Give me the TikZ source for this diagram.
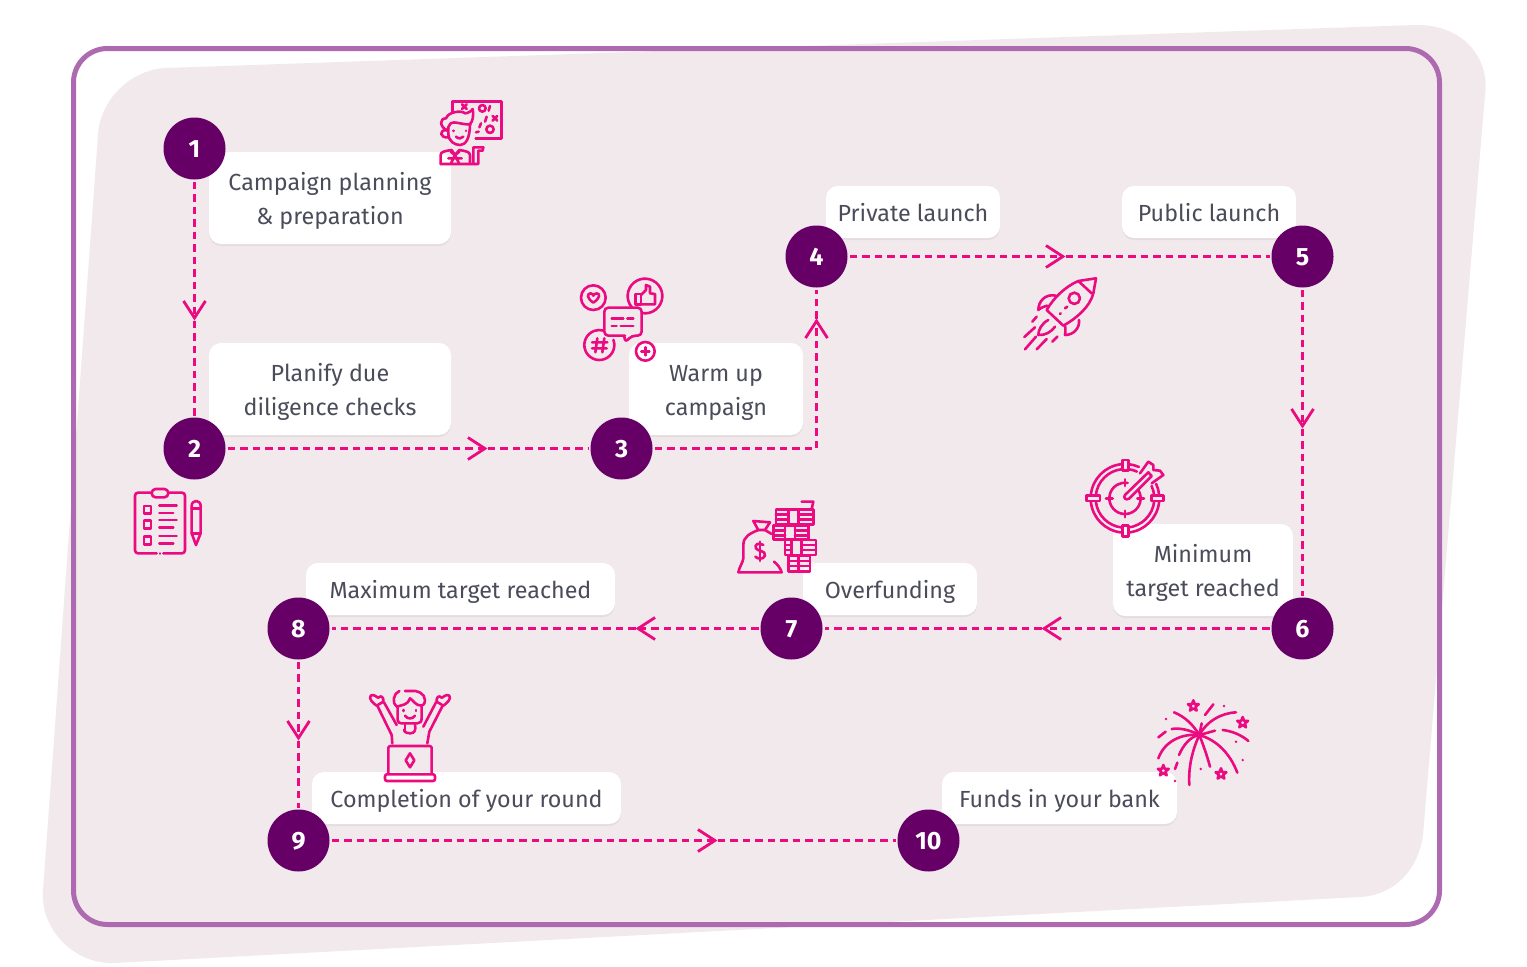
\documentclass[tikz,border=0pt]{standalone}
\usepackage{fontspec}
\setmainfont{Fira Sans}
\usepackage{tikz}
\usetikzlibrary{arrows.meta,shadows}

\definecolor{blobfill}{HTML}{F2E9EC}
\definecolor{framecol}{HTML}{AE6AB0}
\definecolor{pinkline}{HTML}{EC0A80}
\definecolor{stepcol}{HTML}{660066}
\definecolor{labeltext}{HTML}{4B4C5A}

\tikzset{
  labelbox/.style={fill=white,rounded corners=12pt,align=center,inner sep=0pt,
    text=labeltext,font=\fontsize{23.3}{34}\selectfont,text depth=6pt,
    drop shadow={shadow xshift=0pt,shadow yshift=-2pt,opacity=.12}},
  twoline/.style={minimum height=92pt,text height=58pt},
  oneline/.style={minimum height=52pt,text height=24pt},
  stepdot/.style={circle,fill=stepcol,text=white,minimum size=62pt,inner sep=0pt,
    outer sep=2pt,text height=18.5pt,font=\fontsize{25}{25}\selectfont\bfseries},
  link/.style={draw=pinkline,line width=3pt,dash pattern=on 7.5pt off 5pt},
  flowtip/.style={-{Straight Barb[length=17pt,width=22pt,line width=2.8pt]}},
  iconline/.style={draw=pinkline,line width=2.6pt,line cap=round,line join=round},
  iconscope/.style={x=.3333pt,y=-.3333pt,iconline}
}

\begin{document}
\begin{tikzpicture}[x=1pt,y=-1pt]
  \useasboundingbox (0,0) rectangle (1527,967);

  % Background blob
  \fill[blobfill] (165,68) -- (1415,25) .. controls (1465,24) and (1490,60) .. (1485,95)
    -- (1423,835) .. controls (1418,870) and (1395,895) .. (1360,897)
    -- (115,963) .. controls (75,965) and (40,930) .. (43,890)
    -- (98,135) .. controls (100,100) and (130,70) .. (165,68) -- cycle;

  % Frame
  \draw[framecol,line width=5pt,rounded corners=34pt] (73.5,48.5) rectangle (1439.5,924.5);

  % Label boxes
  \node[labelbox,twoline,minimum width=242pt] (lab1) at (330,198) {Campaign planning\\\& preparation};
  \node[labelbox,twoline,minimum width=242pt] (lab2) at (330,389) {Planify due\\diligence checks};
  \node[labelbox,twoline,minimum width=174pt] (lab3) at (716,389) {Warm up\\campaign};
  \node[labelbox,oneline,minimum width=174pt] (lab4) at (913,212) {Private launch};
  \node[labelbox,oneline,minimum width=174pt] (lab5) at (1209,212) {Public launch};
  \node[labelbox,twoline,minimum width=180pt] (lab6) at (1203,570) {Minimum\\target reached};
  \node[labelbox,oneline,minimum width=174pt] (lab7) at (890,589) {Overfunding};
  \node[labelbox,oneline,minimum width=309pt] (lab8) at (460.5,589) {Maximum target reached};
  \node[labelbox,oneline,minimum width=309pt] (lab9) at (466.5,798) {Completion of your round};
  \node[labelbox,oneline,minimum width=235pt] (lab10) at (1059.5,798) {Funds in your bank};

  % Step circles and arrow positions
  \begin{scope}[shift={(-.5,.5)}]
    \node[stepdot] (n1) at (195,148) {1};
    \node[stepdot] (n2) at (195,448) {2};
    \node[stepdot] (n3) at (622,448) {3};
    \node[stepdot] (n4) at (817,256) {4};
    \node[stepdot] (n5) at (1303,256) {5};
    \node[stepdot] (n6) at (1303,628) {6};
    \node[stepdot] (n7) at (792,628) {7};
    \node[stepdot] (n8) at (299,628) {8};
    \node[stepdot] (n9) at (299,840) {9};
    \node[stepdot] (n10) at (929,840) {10};

    \coordinate (a1) at (195,320);
    \coordinate (a2) at (488,448);
    \coordinate (a3) at (817,318);
    \coordinate (a4) at (1066,256);
    \coordinate (a5) at (1303,428);
    \coordinate (a6) at (1042,628);
    \coordinate (a7) at (636,628);
    \coordinate (a8) at (299,740);
    \coordinate (a9) at (718,840);
  \end{scope}

  % Connectors
  \draw[link,flowtip] (n1) -- (a1);
  \draw[link] (a1) -- (n2);
  \draw[link,flowtip] (n2) -- (a2);
  \draw[link] (a2) -- (n3);
  \draw[link,flowtip] (n3) -| (a3);
  \draw[link] (a3) -- (n4);
  \draw[link,flowtip] (n4) -- (a4);
  \draw[link] (a4) -- (n5);
  \draw[link,flowtip] (n5) -- (a5);
  \draw[link] (a5) -- (n6);
  \draw[link,flowtip] (n6) -- (a6);
  \draw[link] (a6) -- (n7);
  \draw[link,flowtip] (n7) -- (a7);
  \draw[link] (a7) -- (n8);
  \draw[link,flowtip] (n8) -- (a8);
  \draw[link] (a8) -- (n9);
  \draw[link,flowtip] (n9) -- (a9);
  \draw[link] (a9) -- (n10);

  % Icon: planner at the board
  \begin{scope}[shift={(420,90)},iconscope]
    \draw (97,65) -- (97,35) -- (245,35) -- (245,145) -- (167,145);
    \foreach \mx/\my in {133/50,225/85} {
      \draw (\mx-7,\my-7) -- (\mx+7,\my+7) (\mx-7,\my+7) -- (\mx+7,\my-7);
    }
    \draw (187,55) circle[radius=10];
    \draw (210,118) circle[radius=11];
    \draw (210,48) -- (206,62) (200,80) -- (195,95) (183,100) -- (178,112) (176,125) -- (168,127);
    \draw (82,122) .. controls (58,110) and (58,85) .. (78,85) .. controls (85,65) and (125,60) .. (135,70)
      .. controls (145,70) and (155,62) .. (158,57) .. controls (162,75) and (158,95) .. (150,103)
      .. controls (130,105) and (100,92) .. (92,100) .. controls (85,105) and (85,115) .. (82,122);
    \draw (85,115) -- (85,130) .. controls (85,155) and (105,165) .. (120,165)
      .. controls (135,165) and (150,150) .. (150,100);
    \draw (80,120) .. controls (55,120) and (60,145) .. (85,142);
    \draw (108,140) .. controls (115,147) and (125,147) .. (130,140);
    \draw (100,122) -- (100,123) (138,122) -- (138,123);
    \draw (62,222) -- (62,195) .. controls (62,185) and (75,183) .. (95,180) -- (105,195) -- (118,180)
      .. controls (135,183) and (150,185) .. (150,195) -- (150,222);
    \draw (62,222) -- (175,222) -- (175,182) -- (188,182) -- (190,172) -- (160,172) -- (160,222);
    \draw (105,195) -- (92,222) (105,195) -- (118,222) (85,205) -- (125,205);
    \draw (105,195) -- (92,185) (105,195) -- (118,185);
  \end{scope}

  % Icon: social media
  \begin{scope}[shift={(570,270)},iconscope]
    \draw (70,83) circle[radius=37];
    \draw (70,98) .. controls (50,85) and (50,70) .. (62,70) .. controls (67,70) and (70,75) .. (70,77)
      .. controls (70,75) and (75,70) .. (80,70) .. controls (92,70) and (90,85) .. (70,98) -- cycle;
    \draw ([shift={(140:52)}]225,78) arc[start angle=140,end angle=461,radius=52];
    \draw (197,72) rectangle (213,103);
    \draw (213,75) -- (228,60) -- (228,45) -- (240,50) -- (240,70) -- (255,72) -- (255,103) -- (213,103);
    \draw[rounded corners=4pt] (165,197) -- (103,197) -- (103,113) -- (215,113) -- (215,197) -- (185,197) -- (165,218) -- (163,197);
    \draw (125,145) -- (160,145) (172,145) -- (190,145) (125,168) -- (140,168) (152,168) -- (190,168);
    \draw ([shift={(-20:45)}]88,225) arc[start angle=-20,end angle=286,radius=45];
    \draw (82,205) -- (76,247) (103,205) -- (97,247) (66,217) -- (112,217) (66,235) -- (110,235);
    \draw (226,244) circle[radius=28];
    \draw (226,232) -- (226,256) (214,244) -- (238,244);
  \end{scope}

  % Icon: rocket
  \begin{scope}[shift={(1010,265)},iconscope]
    \draw (258,40) -- (205,48) .. controls (165,65) and (130,100) .. (110,135) -- (160,182)
      .. controls (200,160) and (240,125) .. (250,85) -- cycle;
    \draw (205,48) -- (245,85);
    \draw (193,100) circle[radius=17];
    \draw (165,130) -- (172,125) (150,147) -- (152,145);
    \draw (112,122) .. controls (100,125) and (90,130) .. (85,135) .. controls (85,110) and (105,85) .. (138,92);
    \draw (165,182) .. controls (168,195) and (165,205) .. (165,210) .. controls (190,210) and (210,190) .. (207,165);
    \draw (115,165) .. controls (95,175) and (85,195) .. (85,210) .. controls (105,212) and (125,200) .. (135,185);
    \draw (80,155) -- (67,170) (75,187) -- (43,216) (78,215) -- (45,253) (110,222) -- (80,253) (142,215) -- (127,230);
  \end{scope}

  % Icon: checklist
  \begin{scope}[shift={(125,480)},iconscope]
    \draw[rounded corners=3pt] (95,220) -- (30,220) -- (30,38) -- (180,38) -- (180,220) -- (115,220);
    \draw (105,220) -- (105,221);
    \draw[fill=blobfill,rounded corners=4pt] (80,27) rectangle (130,52);
    \foreach \cy in {78,122,170} {
      \draw (57,\cy) rectangle (78,\cy+23);
      \draw (103,\cy-2) -- (155,\cy-2) (103,\cy+21) -- (145,\cy+21);
    }
    \draw (200,160) -- (200,78) .. controls (200,58) and (227,58) .. (227,78) -- (227,160) -- (213,195) -- cycle;
    \draw (200,85) -- (227,85) (200,160) -- (227,160);
  \end{scope}

  % Icon: target
  \begin{scope}[shift={(1080,450)},iconscope]
    \foreach \ra/\rb in {6/84,96/174,186/264,276/294,-25/-6} {
      \draw ([shift={(\ra:103)}]135,145) arc[start angle=\ra,end angle=\rb,radius=103];
      \draw ([shift={(\ra:88)}]135,145) arc[start angle=\ra,end angle=\rb,radius=88];
    }
    \draw (127,30) rectangle (145,62);
    \draw (127,226) rectangle (145,260);
    \draw (20,136) rectangle (60,153);
    \draw (215,136) rectangle (250,153);
    \draw ([shift={(-30:47)}]135,145) arc[start angle=-30,end angle=280,radius=47];
    \draw (135,88) -- (135,108) (135,182) -- (135,202) (78,145) -- (98,145) (172,145) -- (192,145);
    \draw (135,135) -- (205,67) -- (215,78) -- (147,146) .. controls (138,152) and (128,143) .. (135,135);
    \draw (180,70) -- (205,35) -- (220,45) -- (220,60) -- (240,62) -- (250,75) -- (215,100);
  \end{scope}

  % Icon: money bag and stacks
  \begin{scope}[shift={(730,495)},iconscope]
    \draw (70,78) -- (120,82) -- (105,105) -- (85,105) -- cycle;
    \draw (85,105) .. controls (60,115) and (40,125) .. (40,150) -- (40,190) .. controls (38,205) and (28,215) .. (25,232)
      -- (155,232) .. controls (152,220) and (140,205) .. (132,200);
    \draw (105,105) -- (125,117);
    \draw (100,150) .. controls (85,140) and (72,150) .. (78,160) .. controls (82,170) and (108,165) .. (105,182)
      .. controls (100,195) and (82,192) .. (76,185);
    \draw (90,140) -- (90,198);
    \foreach \xa/\xb/\ya/\yb/\va/\vb in {138/250/43/88/175/205,130/235/92/133/165/195,165/258/135/180/185/215,175/240/183/230/205/205} {
      \draw (\xa,\ya) rectangle (\xb,\yb);
      \draw (\va,\ya) -- (\va,\yb) (\vb,\ya) -- (\vb,\yb);
      \draw (\vb,\ya+15) -- (\xb,\ya+15) (\vb,\ya+30) -- (\xb,\ya+30);
      \draw (\xa,\ya+15) -- (\va,\ya+15) (\xa,\ya+30) -- (\va,\ya+30);
    }
    \draw (215,20) -- (250,20) -- (245,42);
  \end{scope}

  % Icon: cheering person with laptop
  \begin{scope}[shift={(360,685)},iconscope]
    \draw (50,62) .. controls (40,55) and (25,42) .. (32,32) .. controls (42,25) and (50,38) .. (55,38)
      .. controls (62,30) and (72,35) .. (70,50) -- (50,62);
    \draw (250,62) .. controls (260,55) and (275,42) .. (268,32) .. controls (258,25) and (250,38) .. (245,38)
      .. controls (238,30) and (228,35) .. (230,50) -- (250,62);
    \draw (52,62) -- (95,150) -- (97,175) (72,52) -- (110,120);
    \draw (248,62) -- (208,140) -- (202,175) (228,52) -- (190,125);
    \draw (110,65) .. controls (95,55) and (100,25) .. (118,18) (135,18) -- (155,18) .. controls (170,15) and (195,25) .. (195,45)
      .. controls (195,55) and (190,62) .. (185,62) .. controls (165,62) and (160,45) .. (150,40)
      .. controls (145,60) and (125,60) .. (110,65);
    \draw (113,65) -- (113,105) .. controls (113,112) and (118,115) .. (125,115) -- (172,115) .. controls (180,115) and (185,110) .. (185,100) -- (185,62);
    \draw (135,133) .. controls (128,135) and (135,145) .. (150,145) .. controls (165,145) and (168,135) .. (165,118);
    \draw (135,115) -- (135,133);
    \draw (135,92) .. controls (142,103) and (158,103) .. (165,92);
    \draw (130,75) -- (130,78) (168,75) -- (168,78);
    \draw[rounded corners=2pt] (85,265) -- (85,183) -- (215,183) -- (215,265);
    \draw[rounded corners=2pt] (75,268) rectangle (225,288);
    \draw (150,205) -- (163,226) -- (150,247) -- (137,226) -- cycle;
  \end{scope}

  % Icon: fireworks
  \begin{scope}[shift={(1150,695)},iconscope]
    \draw (148,120) .. controls (125,170) and (115,220) .. (118,270);
    \draw (148,120) .. controls (160,150) and (172,185) .. (180,215);
    \draw (148,120) .. controls (200,135) and (240,175) .. (262,233);
    \draw (148,120) .. controls (120,125) and (100,150) .. (87,180);
    \draw (148,120) .. controls (100,115) and (45,135) .. (25,190);
    \draw (148,120) .. controls (130,90) and (105,65) .. (72,52);
    \draw (148,120) .. controls (120,105) and (90,98) .. (65,102);
    \draw (148,120) .. controls (170,80) and (210,55) .. (258,52);
    \draw (148,120) -- (155,85);
    \draw (148,120) -- (195,107);
    \draw (218,105) .. controls (245,108) and (275,120) .. (295,138);
    \draw (165,60) -- (190,28) (25,127) -- (47,110) (75,222) -- (82,203);
    \fill[pinkline] (148,120) circle[radius=8];
    \foreach \sx/\sy in {130/33,278/83,40/227,213/237} {
      \draw[shift={(\sx,\sy)}] (-90:17) -- (-54:7) -- (-18:17) -- (18:7) -- (54:17) -- (90:7) -- (126:17) -- (162:7) -- (198:17) -- (234:7) -- cycle;
    }
    \foreach \dx/\dy in {222/33,48/72,258/140,278/195,152/222,75/258} {
      \fill[pinkline] (\dx,\dy) circle[radius=4];
    }
  \end{scope}

\end{tikzpicture}
\end{document}
